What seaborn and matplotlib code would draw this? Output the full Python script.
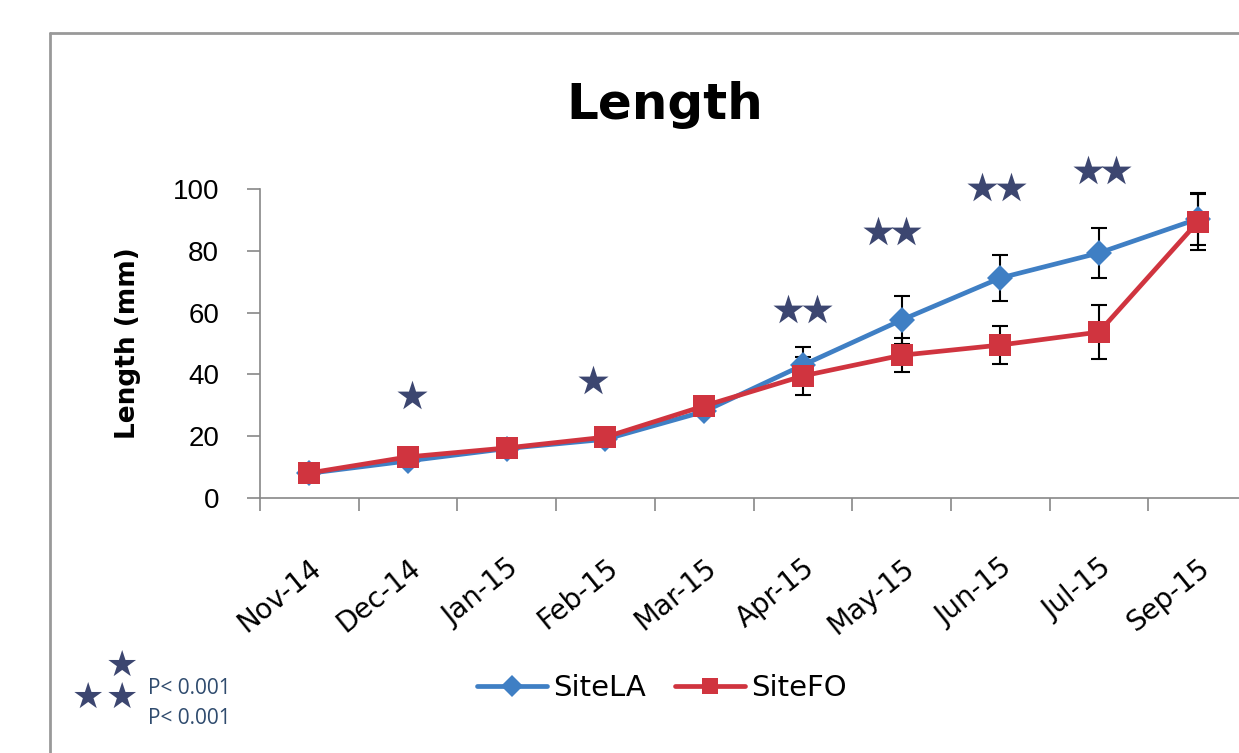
import matplotlib
matplotlib.use("Agg")
import matplotlib.pyplot as plt
import pandas as pd
import seaborn as sns

months = ["Nov-14", "Dec-14", "Jan-15", "Feb-15", "Mar-15",
          "Apr-15", "May-15", "Jun-15", "Jul-15", "Sep-15"]
la_mean = [8, 12, 16, 19, 28, 43, 57.6, 71.2, 79.3, 90.3]
la_err = [0.8, 1, 0.8, 1, 1, 6, 7.7, 7.3, 8, 8.5]
fo_mean = [8.1, 13.3, 16.2, 19.7, 29.8, 39.5, 46.2, 49.5, 53.7, 89.3]
fo_err = [0.8, 1, 0.8, 1, 1, 6.2, 5.5, 6.2, 8.7, 9]

# significance stars (x position in category units, height)
star_x = [1.04, 2.87, 4.85, 5.14, 5.76, 6.05, 6.82, 7.11, 7.89, 8.17]
star_y = [33, 38, 61, 61, 86, 86, 100.3, 100.3, 105.8, 105.8]

la_color = "#3F7FC4"
fo_color = "#D0343F"
star_color = "#3C4670"

la_df = pd.DataFrame({"month": months, "length": la_mean})
fo_df = pd.DataFrame({"month": months, "length": fo_mean})

sns.set_style("white")
plt.rcParams["font.family"] = ["DejaVu Sans"]
plt.rcParams["text.color"] = "black"
plt.rcParams["axes.labelcolor"] = "black"
plt.rcParams["xtick.color"] = "black"
plt.rcParams["ytick.color"] = "black"

fig = plt.figure(figsize=(12.39, 7.53), dpi=100)
ax = fig.add_axes([260 / 1239, 1 - 498 / 753, 987 / 1239, 309 / 753])

# error bars behind the lines
ax.errorbar(range(len(months)), la_mean, yerr=la_err, fmt="none", ecolor="black",
            elinewidth=1.5, capsize=5.5, capthick=1.5, zorder=1)
ax.errorbar(range(len(months)), fo_mean, yerr=fo_err, fmt="none", ecolor="black",
            elinewidth=1.5, capsize=5.5, capthick=1.5, zorder=1)

sns.lineplot(data=la_df, x="month", y="length", color=la_color, marker="D",
             markersize=13, markeredgewidth=0, linewidth=3.4, sort=False,
             label="SiteLA", ax=ax, zorder=3)
sns.lineplot(data=fo_df, x="month", y="length", color=fo_color, marker="s",
             markersize=16, markeredgewidth=0, linewidth=3.4, sort=False,
             label="SiteFO", ax=ax, zorder=4)

ax.scatter(star_x, star_y, marker="*", s=520, color=star_color,
           zorder=5, clip_on=False, linewidths=0)

ax.set_xlim(-0.5, len(months) - 0.5)
ax.set_ylim(0, 100)
ax.set_yticks([0, 20, 40, 60, 80, 100])
ax.set_xticks(range(len(months)))
ax.set_xticklabels(months, rotation=39, ha="right", rotation_mode="anchor",
                   fontsize=20)
ax.set_xticks([i - 0.5 for i in range(len(months) + 1)], minor=True)
ax.tick_params(axis="x", which="major", length=0, pad=40, bottom=False)
ax.tick_params(axis="x", which="minor", length=9.5, width=1.2, color="#888888",
               direction="out", bottom=True)
ax.tick_params(axis="y", length=9.5, width=1.2, color="#888888", labelsize=20,
               pad=20, left=True, labelcolor="black")
for lab in ax.get_yticklabels():
    lab.set_family("Liberation Sans")

for side in ["top", "right"]:
    ax.spines[side].set_visible(False)
for side in ["left", "bottom"]:
    ax.spines[side].set_color("#888888")
    ax.spines[side].set_linewidth(1.2)

ax.set_xlabel("")
ax.set_ylabel("Length (mm)", fontsize=19, fontweight="bold", labelpad=23)

fig.text(665 / 1239, 1 - 105 / 753, "Length", fontsize=36, fontweight="bold",
         ha="center", va="center")

ax.legend_.remove()
handles, labels = ax.get_legend_handles_labels()
leg = fig.legend(handles, labels, loc="center", bbox_to_anchor=(662 / 1239, 1 - 688 / 753),
                 ncol=2, frameon=False, fontsize=21, handlelength=2.4,
                 columnspacing=1.0, handletextpad=0.2)
for h in leg.legend_handles:
    h.set_linewidth(3.4)
    h.set_markersize(11)

# outer chart frame, clipped by the figure edge
fig.add_artist(plt.Line2D([50 / 1239, 50 / 1239], [0, 1 - 33 / 753],
                          color="#999999", lw=2, transform=fig.transFigure))
fig.add_artist(plt.Line2D([50 / 1239, 1], [1 - 33 / 753, 1 - 33 / 753],
                          color="#999999", lw=2, transform=fig.transFigure))

# significance key in the lower left
for sx, sy in [(122, 666), (88, 698), (122, 698)]:
    fig.text(sx / 1239, 1 - sy / 753, "\u2605", fontsize=26, color=star_color,
             ha="center", va="center")
fig.text(148 / 1239, 1 - 688 / 753, "P< 0.001", fontsize=15, color="#2F4B6E",
         ha="left", va="center", family="Open Sans")
fig.text(148 / 1239, 1 - 719 / 753, "P< 0.001", fontsize=15, color="#2F4B6E",
         ha="left", va="center", family="Open Sans")

fig.savefig("out.png", dpi=100)
